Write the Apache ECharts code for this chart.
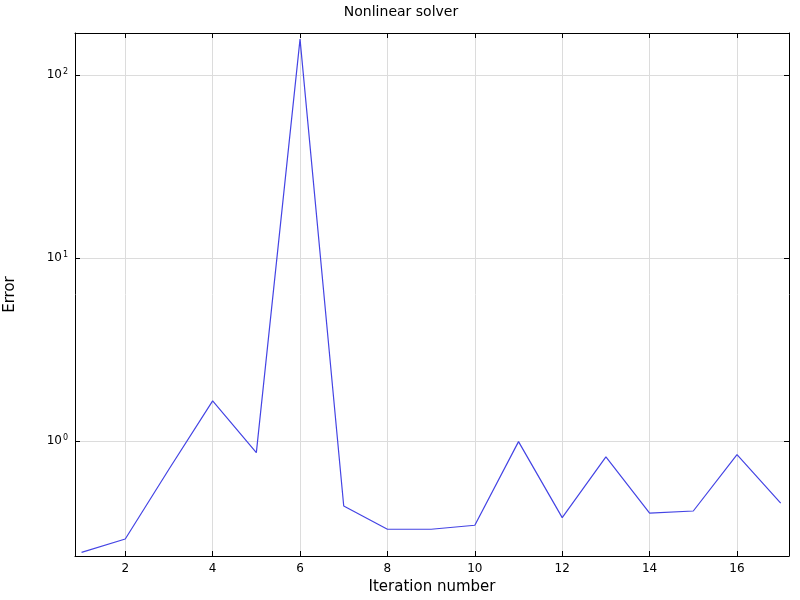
<!DOCTYPE html>
<html>
<head>
<meta charset="utf-8">
<script src="https://cdn.jsdelivr.net/npm/echarts@6/dist/echarts.min.js"></script>
<style>html,body{margin:0;padding:0;background:#fff}#c{width:800px;height:600px}</style>
</head>
<body>
<div id="c"></div>
<script>
const iterations = [1,2,3,4,5,6,7,8,9,10,11,12,13,14,15,16,17];
const errors = [0.246,0.291,0.70,1.654,0.863,157,0.441,0.329,0.329,0.346,0.991,0.381,0.818,0.403,0.414,0.842,0.457];
const xTicks = [2,4,6,8,10,12,14,16];
const yTickExponents = [0,1,2];

const FONT = 'DejaVu Sans';
const chart = echarts.init(document.getElementById('c'), null, {renderer:'canvas'});
const supRich = {
  a:{fontFamily:FONT,fontSize:12,color:'#000'},
  b:{fontFamily:FONT,fontSize:8,color:'#000',verticalAlign:'top',padding:[0,0,6,1]}
};
const yFormatter = v => {
  const e = Math.log10(v);
  const r = Math.round(e);
  if (Math.abs(e - r) < 1e-6 && yTickExponents.includes(r)) return '{a|10}{b|' + r + '}';
  return '';
};
const xFormatter = v => xTicks.includes(v) ? String(v) : '';
const baseX = {
  type:'value', min:0.85, max:17.19,
  splitNumber:8
};
const baseY = {
  type:'log', logBase:10, min:0.235, max:169.6
};
chart.setOption({
  animation:false,
  title:{text:'Nonlinear solver', left:396, top:0, textAlign:'center',
    textStyle:{fontFamily:FONT,fontSize:14,fontWeight:'normal',color:'#000'}},
  grid:{left:75,right:11,top:33,bottom:44,containLabel:false,outerBoundsMode:'none'},
  xAxis:[
    Object.assign({}, baseX, {
      position:'bottom',
      name:'Iteration number', nameLocation:'middle', nameGap:21,
      nameTextStyle:{fontFamily:FONT,fontSize:15,color:'#000'},
      axisLine:{show:true,onZero:false,lineStyle:{color:'#000',width:1}},
      axisTick:{show:true,inside:true,length:5,lineStyle:{color:'#000'}},
      axisLabel:{formatter:xFormatter,fontFamily:FONT,fontSize:12,color:'#000',margin:7},
      splitLine:{show:true,lineStyle:{color:'#dcdcdc',width:1}}
    }),
    Object.assign({}, baseX, {
      position:'top',
      axisLine:{show:true,onZero:false,lineStyle:{color:'#000',width:1}},
      axisTick:{show:true,inside:true,length:5,lineStyle:{color:'#000'}},
      axisLabel:{show:false},
      splitLine:{show:false}
    })
  ],
  yAxis:[
    Object.assign({}, baseY, {
      position:'left',
      name:'Error', nameLocation:'middle', nameGap:57, nameRotate:90,
      nameTextStyle:{fontFamily:FONT,fontSize:15,color:'#000'},
      axisLine:{show:true,onZero:false,lineStyle:{color:'#000',width:1}},
      axisTick:{show:true,inside:true,length:5,lineStyle:{color:'#000'}},
      minorTick:{show:false},
      axisLabel:{formatter:yFormatter,rich:supRich,margin:7,showMinLabel:false,showMaxLabel:false},
      splitLine:{show:true,lineStyle:{color:'#dcdcdc',width:1}}
    }),
    Object.assign({}, baseY, {
      position:'right',
      axisLine:{show:true,onZero:false,lineStyle:{color:'#000',width:1}},
      axisTick:{show:true,inside:true,length:5,lineStyle:{color:'#000'}},
      axisLabel:{show:false},
      splitLine:{show:false}
    })
  ],
  series:[{
    type:'line',
    xAxisIndex:0, yAxisIndex:0,
    data: iterations.map((x,i)=>[x, errors[i]]),
    showSymbol:false, symbol:'none',
    lineStyle:{color:'#4444e4',width:1.2},
    itemStyle:{color:'#4444e4'},
    clip:true
  }]
});
</script>
</body>
</html>
